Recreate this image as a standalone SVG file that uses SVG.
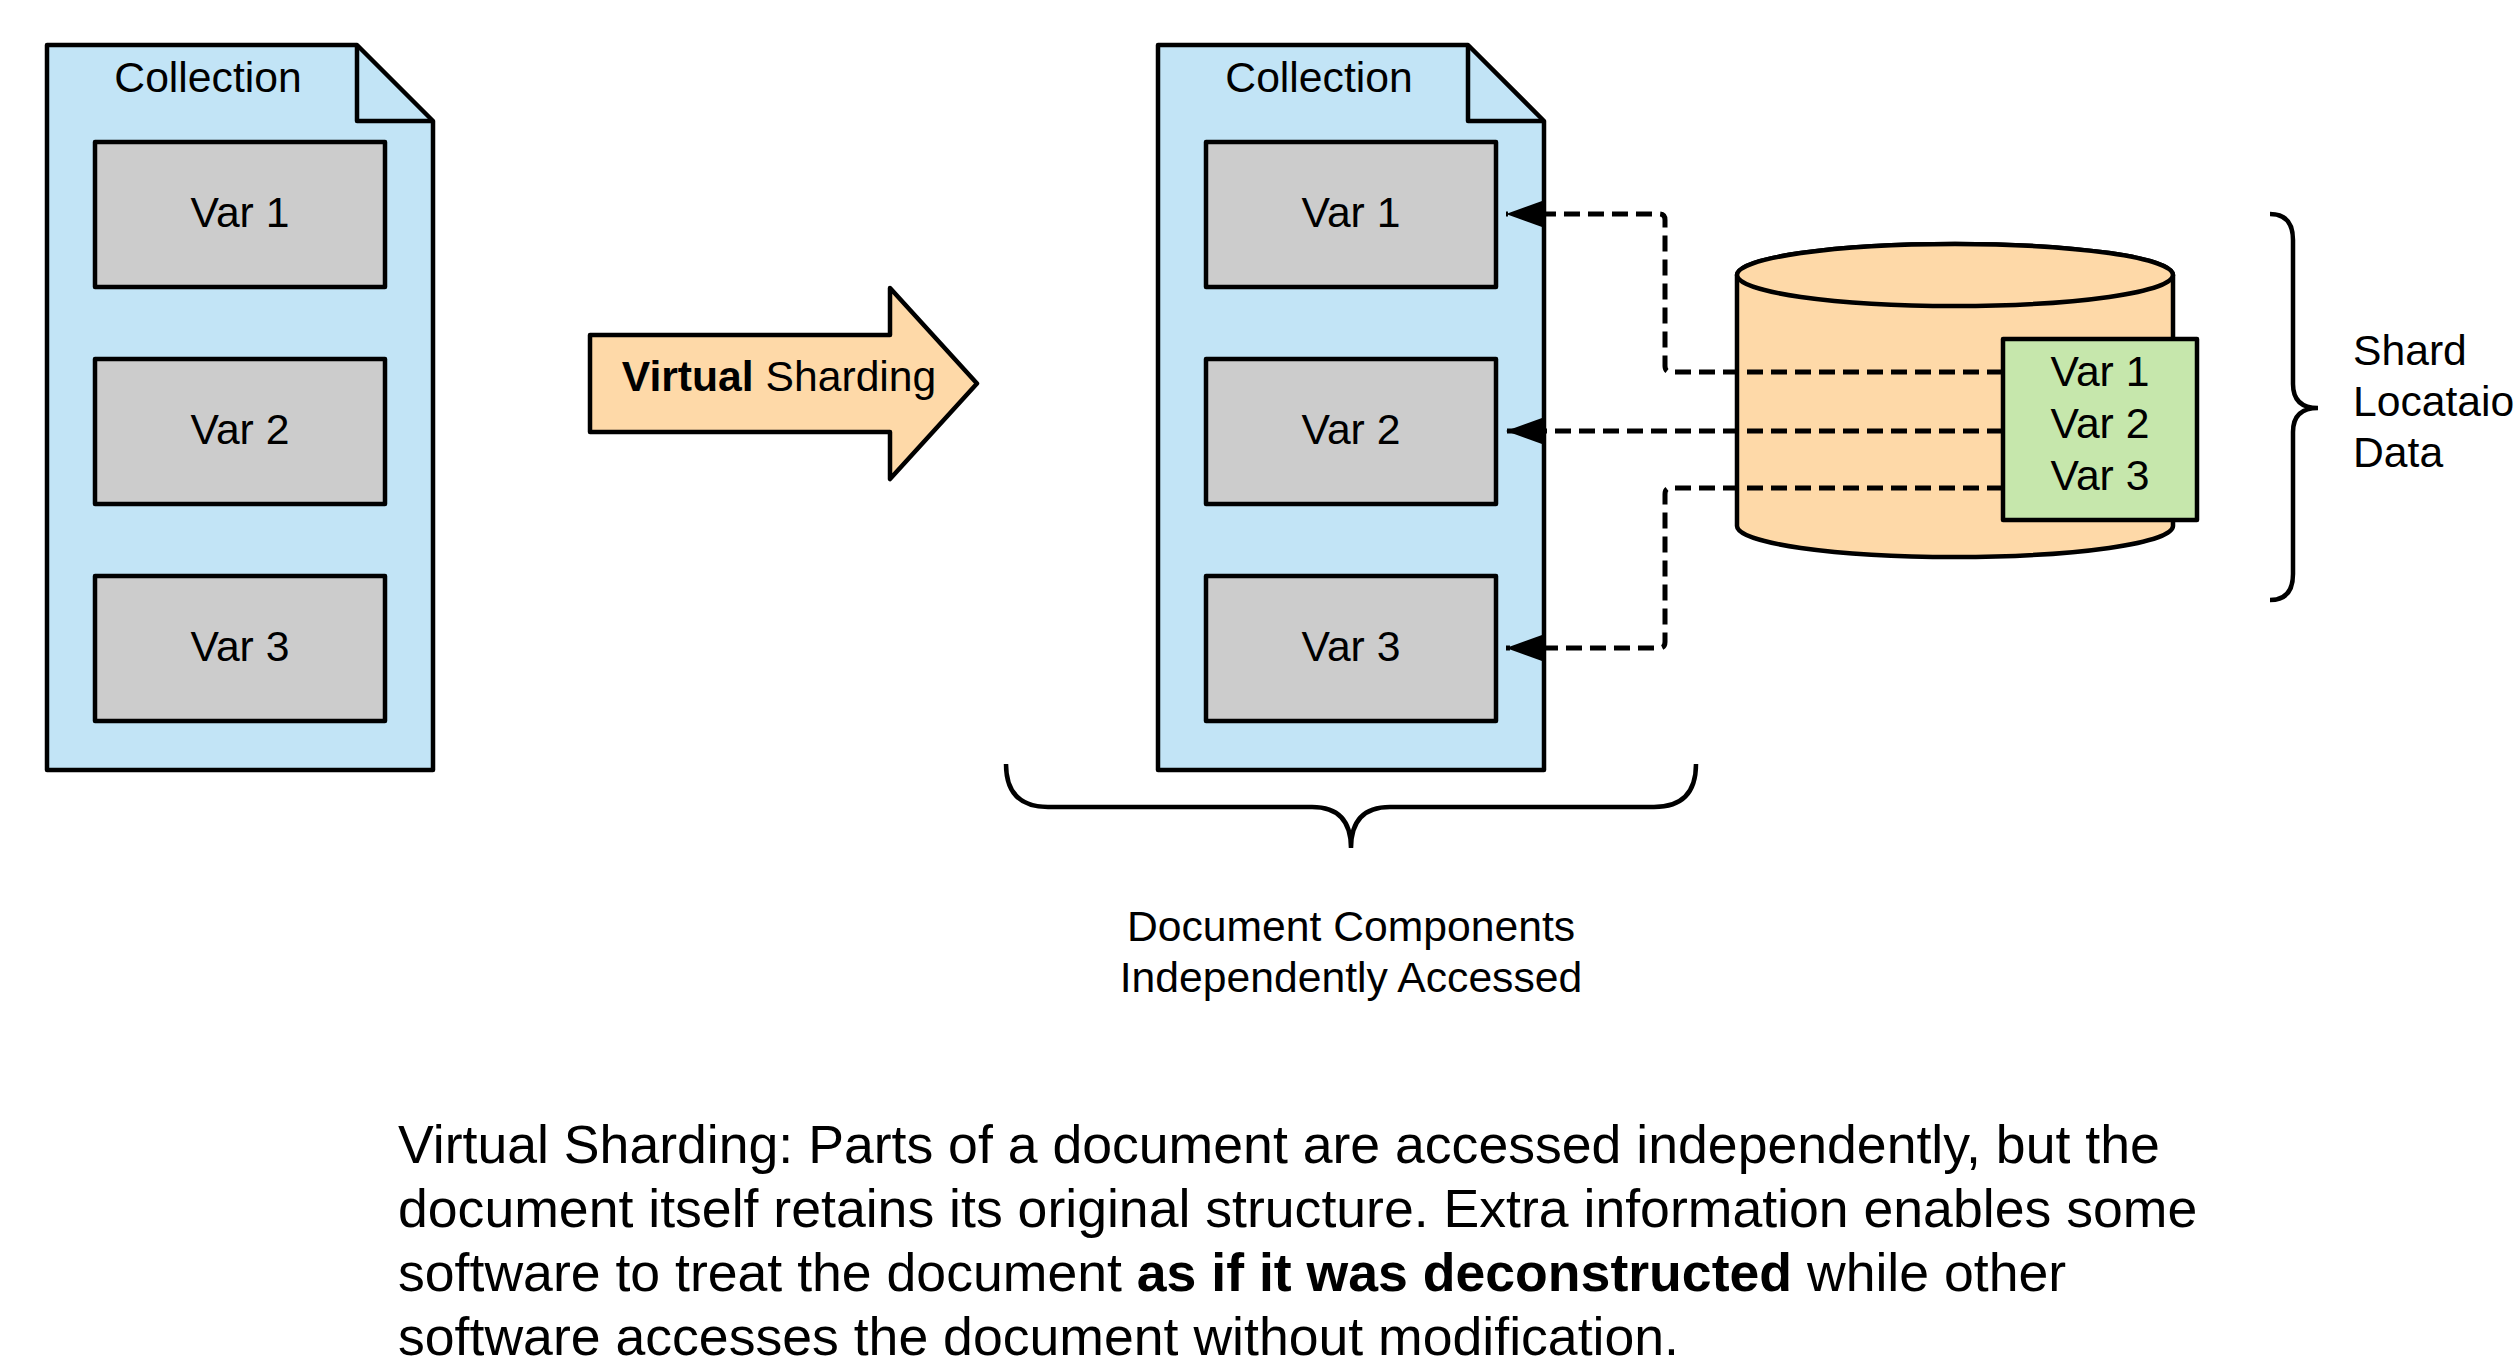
<svg xmlns="http://www.w3.org/2000/svg" width="2516" height="1364" viewBox="0 0 2516 1364">
  <style>
    text { font-family: "Liberation Sans", Arial, sans-serif; fill: #000; }
    .lbl { font-size: 42.67px; }
    .mid { text-anchor: middle; }
    .para { font-size: 53.6px; }
    .b { font-weight: bold; }
    .doc { fill: #c2e4f6; stroke: #000; stroke-width: 4.5; stroke-linejoin: round; }
    .fold { fill: none; stroke: #000; stroke-width: 4.5; stroke-linejoin: round; }
    .var { fill: #cccccc; stroke: #000; stroke-width: 4.5; stroke-linejoin: round; }
    .shape { stroke: #000; stroke-width: 4.5; stroke-linejoin: round; }
    .brace { fill: none; stroke: #000; stroke-width: 4.5; stroke-linecap: butt; }
    .link { fill: none; stroke: #000; stroke-width: 5; stroke-dasharray: 16 8; }
  </style>
  <defs>
    <marker id="ah" markerUnits="userSpaceOnUse" markerWidth="38" markerHeight="26" viewBox="0 0 38 26" refX="36" refY="13" orient="auto">
      <path d="M0,0 L36,13 L0,26 Z" fill="#000"/>
    </marker>
  </defs>
  <rect width="2516" height="1364" fill="#fff"/>

  <!-- source collection -->
  <g id="collection-left">
    <path class="doc" d="M47,45 L357,45 L433,121 L433,770 L47,770 Z"/>
    <path class="fold" d="M357,45 L357,121 L433,121"/>
    <text class="lbl mid" x="208" y="92">Collection</text>
  </g>
  <g id="left-var1">
    <rect class="var" x="95" y="142" width="290" height="145"/>
    <text class="lbl mid" x="240" y="227">Var 1</text>
  </g>
  <g id="left-var2">
    <rect class="var" x="95" y="359" width="290" height="145"/>
    <text class="lbl mid" x="240" y="444">Var 2</text>
  </g>
  <g id="left-var3">
    <rect class="var" x="95" y="576" width="290" height="145"/>
    <text class="lbl mid" x="240" y="661">Var 3</text>
  </g>

  <!-- transformation arrow -->
  <g id="sharding-arrow">
    <path class="shape" fill="#fed9a8" d="M590,335 L890,335 L890,288 L977,383.5 L890,479 L890,432 L590,432 Z"/>
    <text class="lbl mid" x="779" y="391"><tspan class="b">Virtual</tspan> Sharding</text>
  </g>

  <!-- sharded collection -->
  <g id="collection-right">
    <path class="doc" d="M1158,45 L1468,45 L1544,121 L1544,770 L1158,770 Z"/>
    <path class="fold" d="M1468,45 L1468,121 L1544,121"/>
    <text class="lbl mid" x="1319" y="92">Collection</text>
  </g>
  <g id="right-var1">
    <rect class="var" x="1206" y="142" width="290" height="145"/>
    <text class="lbl mid" x="1351" y="227">Var 1</text>
  </g>
  <g id="right-var2">
    <rect class="var" x="1206" y="359" width="290" height="145"/>
    <text class="lbl mid" x="1351" y="444">Var 2</text>
  </g>
  <g id="right-var3">
    <rect class="var" x="1206" y="576" width="290" height="145"/>
    <text class="lbl mid" x="1351" y="661">Var 3</text>
  </g>

  <!-- shard location store -->
  <g id="shard-db">
    <path class="shape" fill="#fed9a8" d="M1737,275 L1737,526 A218,31 0 0 0 2173,526 L2173,275 A218,31 0 0 0 1737,275 Z"/>
    <ellipse class="shape" fill="#fed9a8" cx="1955" cy="275" rx="218" ry="31"/>
  </g>

  <!-- dashed location links -->
  <g id="connectors">
    <path class="link" marker-end="url(#ah)" d="M2003,372 L1671,372 Q1665,372 1665,366 L1665,220 Q1665,214 1659,214 L1506,214"/>
    <path class="link" marker-end="url(#ah)" d="M2003,431 L1506,431"/>
    <path class="link" marker-end="url(#ah)" d="M2003,488 L1671,488 Q1665,488 1665,494 L1665,642 Q1665,648 1659,648 L1506,648"/>
  </g>

  <g id="shard-index">
    <rect class="shape" fill="#c6e7ac" x="2003" y="339" width="194" height="181"/>
    <text class="lbl mid" x="2100" y="386">Var 1</text>
    <text class="lbl mid" x="2100" y="438">Var 2</text>
    <text class="lbl mid" x="2100" y="490">Var 3</text>
  </g>

  <!-- braces and their captions -->
  <g id="components-brace">
    <path class="brace" d="M1006,764 Q1006,807 1048,807 L1312,807 Q1351,807 1351,848 Q1351,807 1390,807 L1654,807 Q1696,807 1696,764"/>
    <text class="lbl mid" x="1351" y="941">Document Components</text>
    <text class="lbl mid" x="1351" y="992">Independently Accessed</text>
  </g>
  <g id="location-brace">
    <path class="brace" d="M2270,214 Q2293,214 2293,240 L2293,384 Q2293,408 2318,408 Q2293,408 2293,432 L2293,574 Q2293,600 2270,600"/>
    <text class="lbl" x="2353" y="365">Shard</text>
    <text class="lbl" x="2353" y="416">Locataio</text>
    <text class="lbl" x="2353" y="467">Data</text>
  </g>

  <!-- description -->
  <g id="description">
    <text class="para" x="398" y="1163">Virtual Sharding: Parts of a document are accessed independently, but the</text>
    <text class="para" x="398" y="1227">document itself retains its original structure. Extra information enables some</text>
    <text class="para" x="398" y="1291">software to treat the document <tspan class="b">as if it was deconstructed</tspan> while other</text>
    <text class="para" x="398" y="1355">software accesses the document without modification.</text>
  </g>
</svg>
